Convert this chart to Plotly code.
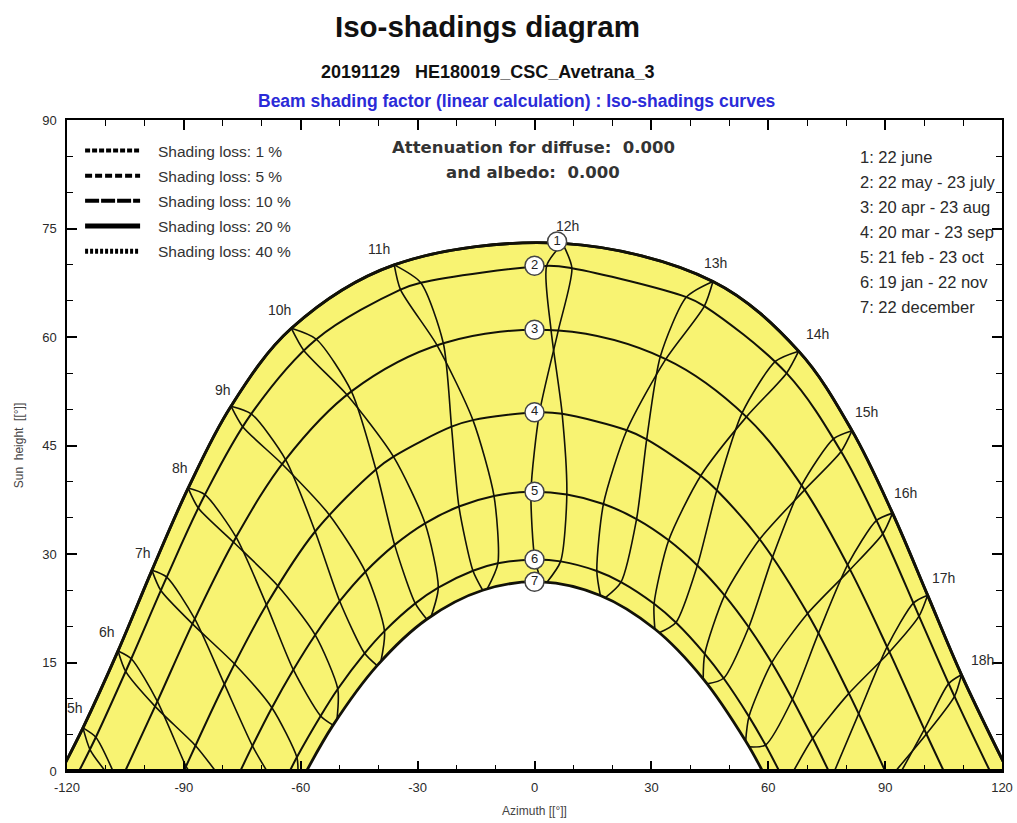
import plotly.graph_objects as go

# ---------------- data ----------------
HOURS = [5, 6, 7, 8, 9, 10, 11, 12, 13, 14, 15, 16, 17, 18]
HOUR_LABELS = ["5h", "6h", "7h", "8h", "9h", "10h", "11h", "12h",
               "13h", "14h", "15h", "16h", "17h", "18h"]

# Sun position (azimuth, height) of each hour on each date curve
# row 1 = 22 june ... row 7 = 22 december ; A = first half of year, B = second half
ROW1_AZ = [-115.9, -106.9, -98.2, -88.9, -77.9, -62.4, -36.0, 7.2, 45.8, 67.8, 81.5, 91.9, 100.9, 109.6]
ROW1_ALT = [5.96, 16.6, 27.74, 39.11, 50.44, 61.2, 69.97, 72.93, 67.67, 58.04, 47.05, 35.65, 24.31, 13.30]

ROW2A_AZ = [-112.6, -103.5, -94.4, -84.6, -72.7, -56.0, -29.2, 9.6, 43.6, 64.7, 78.7, 89.4, 98.7, 107.8]
ROW2A_ALT = [4.67, 15.52, 26.80, 38.20, 49.38, 59.69, 67.51, 69.52, 64.28, 55.0, 44.16, 32.80, 21.42, 10.31]
ROW2B_AZ = [-114.1, -104.9, -95.9, -86.3, -74.9, -59.2, -34.4, 3.1, 39.0, 61.9, 76.8, 87.8, 97.3, 106.3]
ROW2B_ALT = [2.97, 13.73, 24.95, 36.36, 47.60, 58.14, 66.55, 69.83, 65.52, 56.65, 45.94, 34.64, 23.25, 12.08]

ROW3A_AZ = [None, -96.8, -87.2, -76.6, -63.9, -47.0, -23.4, 6.1, 33.7, 54.4, 69.35, 81.0, 91.1, 100.6]
ROW3A_ALT = [None, 9.63, 21.03, 32.32, 43.06, 52.48, 59.13, 60.89, 56.94, 48.96, 38.87, 27.84, 16.46, 5.11]
ROW3B_AZ = [None, -97.4, -87.8, -77.3, -64.8, -48.1, -25.0, 4.25, 32.3, 53.3, 68.6, 80.4, 90.5, 100.1]
ROW3B_ALT = [None, 8.94, 20.34, 31.66, 42.45, 51.98, 58.85, 60.95, 57.31, 49.51, 39.51, 28.52, 17.15, 5.78]

ROW4A_AZ = [None, -89.45, -79.6, -68.8, -56.3, -40.7, -21.3, 1.3, 23.7, 42.67, 57.8, 70.1, 80.7, None]
ROW4A_ALT = [None, 0.65, 12.0, 22.97, 33.11, 41.68, 47.60, 49.6, 47.10, 40.82, 32.04, 21.77, 10.73, None]
ROW4B_AZ = [None, -87.0, -77.0, -65.9, -52.7, -36.2, -15.8, 7.1, 28.8, 46.8, 61.1, 72.9, 83.2, None]
ROW4B_ALT = [None, 3.50, 14.80, 25.62, 35.44, 43.46, 48.51, 49.38, 45.84, 38.81, 29.57, 19.06, 7.90, None]

ROW5A_AZ = [None, None, -72.4, -61.9, -50.0, -35.9, -19.4, -0.9, 17.7, 34.45, 48.8, 60.9, 71.4, None]
ROW5A_ALT = [None, None, 3.47, 14.0, 23.47, 31.26, 36.57, 38.6, 36.92, 31.89, 24.29, 14.97, 4.52, None]
ROW5B_AZ = [None, None, -67.4, -56.3, -43.4, -28.1, -10.4, 8.3, 26.2, 41.8, 55.0, 66.2, None, None]
ROW5B_ALT = [None, None, 8.75, 18.81, 27.54, 34.24, 38.02, 38.23, 34.83, 28.42, 19.88, 9.93, None, None]

ROW6A_AZ = [None, None, None, -54.9, -43.6, -30.6, -15.8, 0.1, 16.0, 30.7, 43.7, 55.05, None, None]
ROW6A_ALT = [None, None, None, 7.61, 16.27, 23.17, 27.68, 29.25, 27.65, 23.12, 16.19, 7.52, None, None]
ROW6B_AZ = [None, None, -61.0, -50.5, -38.5, -24.7, -9.4, 6.7, 22.2, 36.3, 48.55, 59.3, None, None]
ROW6B_ALT = [None, None, 1.90, 11.34, 19.34, 25.35, 28.71, 28.98, 26.12, 20.53, 12.82, 3.59, None, None]

ROW7A_AZ = [None, None, None, -51.7, -40.4, -27.65, -13.3, 1.8, 16.9, 30.9, 43.3, 54.2, None, None]
ROW7A_ALT = [None, None, None, 6.34, 14.57, 20.98, 24.99, 26.15, 24.27, 19.63, 12.74, 4.15, None, None]
ROW7B_AZ = [None, None, None, -50.7, -39.4, -26.5, -12.1, 3.2, 18.2, 32.0, 44.3, 55.1, None, None]
ROW7B_ALT = [None, None, None, 7.12, 15.22, 21.43, 25.21, 26.1, 23.97, 19.11, 12.04, 3.33, None, None]

# azimuth where each hour line meets the horizon (first / second half of year)
HORIZON_A_AZ = [-108.2, -88.7, -68.7, None, None, None, None, None, None, None, None, None, 66.5, 92.7]
HORIZON_B_AZ = [-110.2, -81.9, -60.7, None, None, None, None, None, None, None, None, None, 77.0, 94.2]

# sunrise / sunset azimuth (absolute value) of each date curve
ROW_SET_AZ = [121.5, 116.9, 105.05, 90.0, 75.5, 62.8, 58.5]

DATE_NAMES = ["1: 22 june", "2: 22 may - 23 july", "3: 20 apr - 23 aug",
              "4: 20 mar - 23 sep", "5: 21 feb - 23 oct", "6: 19 jan - 22 nov",
              "7: 22 december"]
CIRCLE_TEXT = ["1", "2", "3", "4", "5", "6", "7"]
CIRCLE_AZ = [5.8, 0, 0, 0, 0, 0, 0]
CIRCLE_ALT = [73.2, 69.85, 61.0, 49.6, 38.6, 29.25, 26.15]

LOSS_LABELS = ["Shading loss: 1 %", "Shading loss: 5 %", "Shading loss: 10 %",
               "Shading loss: 20 %", "Shading loss: 40 %"]

# ---------------- styles ----------------
LINE_C = "#121208"
YELLOW = "#F8F372"
TXT = "#2a2a2a"
FONT = "Liberation Sans, Arial"
LABEL_DX = [-8, -11, -9, -8, -8, -12, -15, 5, 3, 19, 14, 13, 16, 21]
LABEL_DY = [20, 19, 17, 20, 16, 18, 16, 17, 19, 17, 19, 20, 17, 15]
LOSS_DASH = ["5px,2px", "7px,3px", "14px,2px", "solid", "3px,2px"]
LOSS_WIDTH = [4, 4, 4, 5, 5]
PAD = "\u00a0\u00a0\u00a0"

ROWS_A = [(ROW1_AZ, ROW1_ALT), (ROW2A_AZ, ROW2A_ALT), (ROW3A_AZ, ROW3A_ALT),
          (ROW4A_AZ, ROW4A_ALT), (ROW5A_AZ, ROW5A_ALT), (ROW6A_AZ, ROW6A_ALT),
          (ROW7A_AZ, ROW7A_ALT)]
ROWS_B = [(ROW1_AZ, ROW1_ALT), (ROW2B_AZ, ROW2B_ALT), (ROW3B_AZ, ROW3B_ALT),
          (ROW4B_AZ, ROW4B_ALT), (ROW5B_AZ, ROW5B_ALT), (ROW6B_AZ, ROW6B_ALT),
          (ROW7B_AZ, ROW7B_ALT)]


def row_curve(r):
    pts = [(a, h) for a, h in zip(*ROWS_A[r]) if a is not None]
    if r > 0:
        for a, h in zip(*ROWS_B[r]):
            if a is not None and all(abs(a - p[0]) > 4 for p in pts):
                pts.append((a, h))
    pts += [(-ROW_SET_AZ[r], 0.0), (ROW_SET_AZ[r], 0.0)]
    pts.sort()
    return [p[0] for p in pts], [p[1] for p in pts]


def hour_branch(i, first_half):
    pts = []
    if first_half:
        if HORIZON_A_AZ[i] is not None:
            pts.append((HORIZON_A_AZ[i], 0.0))
        for az, alt in reversed(ROWS_A):
            if az[i] is not None:
                pts.append((az[i], alt[i]))
    else:
        for az, alt in ROWS_B:
            if az[i] is not None:
                pts.append((az[i], alt[i]))
        if HORIZON_B_AZ[i] is not None:
            pts.append((HORIZON_B_AZ[i], 0.0))
    return [p[0] for p in pts], [p[1] for p in pts]


fig = go.Figure()

# yellow band between 22 june and 22 december
x1, y1 = row_curve(0)
fig.add_trace(go.Scatter(x=x1, y=y1, mode="lines", fill="tozeroy", fillcolor=YELLOW,
                         line=dict(color=LINE_C, width=2.8, shape="spline", smoothing=1.0),
                         showlegend=False, hoverinfo="skip"))
x7, y7 = row_curve(6)
fig.add_trace(go.Scatter(x=x7, y=y7, mode="lines", fill="tozeroy", fillcolor="white",
                         line=dict(color="rgba(0,0,0,0)", width=0, shape="spline", smoothing=1.0),
                         showlegend=False, hoverinfo="skip"))

# hour lines
for i in range(len(HOURS)):
    for half in (True, False):
        hx, hy = hour_branch(i, half)
        fig.add_trace(go.Scatter(x=hx, y=hy, mode="lines",
                                 line=dict(color=LINE_C, width=1.6, shape="spline", smoothing=0.7),
                                 showlegend=False, hoverinfo="skip"))

# date curves
for r in range(7):
    rx, ry = row_curve(r)
    w = 2.8 if r in (0, 6) else 2.0
    fig.add_trace(go.Scatter(x=rx, y=ry, mode="lines",
                             line=dict(color=LINE_C, width=w, shape="spline", smoothing=1.0),
                             showlegend=False, hoverinfo="skip"))

# numbered circles
fig.add_trace(go.Scatter(x=CIRCLE_AZ, y=CIRCLE_ALT, mode="markers+text", text=CIRCLE_TEXT,
                         textposition="middle center",
                         textfont=dict(family=FONT, size=13, color="#222"),
                         marker=dict(size=19, color="white", line=dict(color="#444", width=1.5)),
                         showlegend=False, hoverinfo="skip"))

# shading-loss legend entries
for k, name in enumerate(LOSS_LABELS):
    fig.add_trace(go.Scatter(x=[None], y=[None], mode="lines", name=PAD + name, legendgroup=name,
                             line=dict(color="black", width=LOSS_WIDTH[k], dash=LOSS_DASH[k])))

# hour labels
for i, lab in enumerate(HOUR_LABELS):
    fig.add_annotation(x=ROW1_AZ[i], y=ROW1_ALT[i], text=lab, showarrow=False,
                       xanchor="center", yanchor="middle",
                       xshift=LABEL_DX[i], yshift=LABEL_DY[i],
                       font=dict(family=FONT, size=14, color=TXT))

# date legend (top right)
for k, name in enumerate(DATE_NAMES):
    fig.add_annotation(x=0.846, y=0.943 - k * 0.0385, xref="paper", yref="paper",
                       text=name, showarrow=False, xanchor="left", yanchor="middle",
                       font=dict(family=FONT, size=16.5, color=TXT))

fig.add_annotation(x=0.4985, y=0.9585, xref="paper", yref="paper", showarrow=False,
                   xanchor="center", yanchor="middle",
                   text="<b>Attenuation for diffuse:  0.000</b>",
                   font=dict(family="DejaVu Sans", size=16.5, color="#333"))
fig.add_annotation(x=0.4985, y=0.920, xref="paper", yref="paper", showarrow=False,
                   xanchor="center", yanchor="middle",
                   text="<b>and albedo:  0.000</b>",
                   font=dict(family="DejaVu Sans", size=16.5, color="#333"))

# titles
fig.add_annotation(x=0.450, y=1.143, xref="paper", yref="paper", showarrow=False,
                   xanchor="center", yanchor="middle",
                   text="<b>Iso-shadings diagram</b>",
                   font=dict(family=FONT, size=29.5, color="#111"))
fig.add_annotation(x=0.450, y=1.074, xref="paper", yref="paper", showarrow=False,
                   xanchor="center", yanchor="middle",
                   text="<b>20191129   HE180019_CSC_Avetrana_3</b>",
                   font=dict(family=FONT, size=18, color="#111"))
fig.add_annotation(x=0.481, y=1.029, xref="paper", yref="paper", showarrow=False,
                   xanchor="center", yanchor="middle",
                   text="<b>Beam shading factor (linear calculation) : Iso-shadings curves</b>",
                   font=dict(family=FONT, size=17.5, color="#2b2bd8"))

# thick horizon line
fig.add_shape(type="line", xref="paper", x0=0, x1=1, yref="y", y0=0, y1=0,
              line=dict(color="black", width=4), layer="above")

fig.update_layout(
    width=1017, height=823,
    margin=dict(l=67, r=15, t=120, b=52),
    paper_bgcolor="white", plot_bgcolor="white",
    showlegend=True,
    legend=dict(x=0.014, y=0.9785, xanchor="left", yanchor="top",
                bgcolor="rgba(0,0,0,0)", itemwidth=55, tracegroupgap=2,
                traceorder="grouped",
                font=dict(family=FONT, size=15.5, color="#333")),
    xaxis=dict(range=[-120, 120], tick0=-120, dtick=30, ticks="inside", ticklen=10,
               tickwidth=1.5, tickcolor="black", showline=True, linecolor="black",
               linewidth=1.5, mirror="ticks", showgrid=False, zeroline=False,
               automargin=False, ticklabelstandoff=4,
               labelalias={"\u2212120": "-120", "\u221290": "-90",
                           "\u221260": "-60", "\u221230": "-30"},
               minor=dict(dtick=10, ticks="inside", ticklen=6, tickcolor="black", tickwidth=1.2),
               tickfont=dict(family=FONT, size=13, color=TXT),
               title=dict(text="Azimuth [[°]]", standoff=12,
                          font=dict(family=FONT, size=12, color="#444"))),
    yaxis=dict(range=[0, 90], tick0=0, dtick=15, ticks="inside", ticklen=10,
               tickwidth=1.5, tickcolor="black", showline=True, linecolor="black",
               linewidth=1.5, mirror="ticks", showgrid=False, zeroline=False,
               automargin=False, ticklabelstandoff=6,
               minor=dict(dtick=5, ticks="inside", ticklen=6, tickcolor="black", tickwidth=1.2),
               tickfont=dict(family=FONT, size=13, color=TXT),
               title=dict(text="Sun  height  [[°]]", standoff=16,
                          font=dict(family=FONT, size=12, color="#444"))),
)

fig.write_html("out.html", config={"displayModeBar": False},
               post_script="document.body.style.margin='0';document.body.style.overflow='hidden';")
